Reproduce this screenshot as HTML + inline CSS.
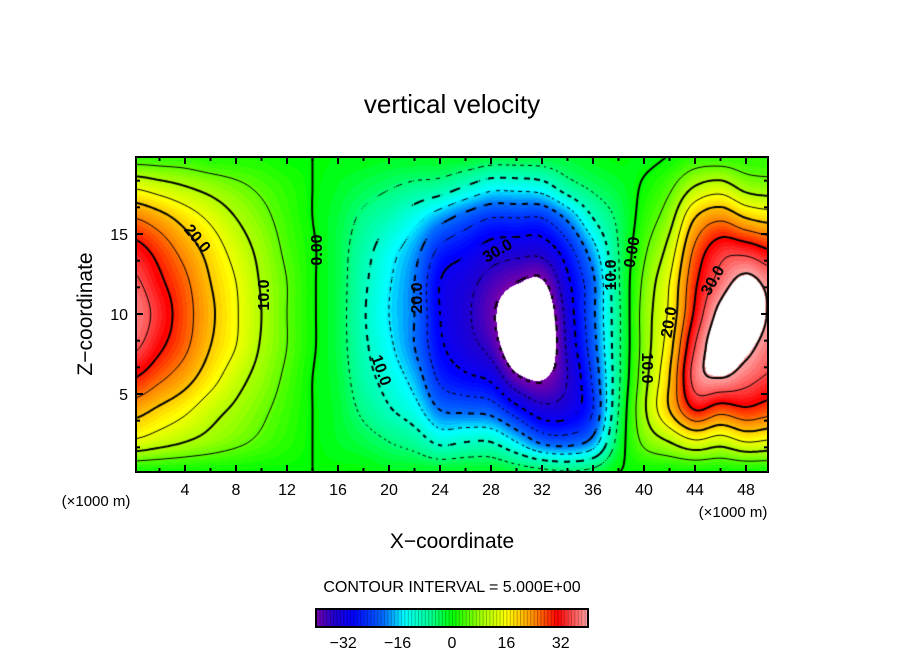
<!DOCTYPE html>
<html><head><meta charset="utf-8"><style>
body{margin:0;background:#fff;width:904px;height:654px;overflow:hidden;position:relative;font-family:"Liberation Sans",sans-serif}
#field{position:absolute;left:136px;top:157px}
svg{position:absolute;left:0;top:0}
</style></head><body>
<canvas id="field" width="632" height="315"></canvas>
<svg id="ov" width="904" height="654"></svg>
<script>
const xNodes=[0,2,4,6,8,10,12,14,16,18,20,22,24,26,28,30,32,34,36,38,40,42,44,46,48,50];
const zNodes=[0,2,4,6,8,10,12,14,16,18,20];
const wGrid=[
[0,14,22,30,36,38,36,32,25,14,2],
[0,12,19,26,31,33,31,28,22,12,2],
[0,10,16,22,26,27,26,23,18,10,2],
[0,8,12,17,20,21,20,18,14,8,1],
[0,6,9,12,15,15.5,15,13,10,6,1],
[0,4,6,8,9.5,10,9.5,8.5,6.5,4,1],
[0,2,3,4,5,5,5,4,3,2,0],
[0,0,0,0,0.5,0.5,0.5,0.5,0,0,0],
[0,-1.5,-2,-2.5,-3,-3,-3,-3,-2.5,-1.5,-0.5],
[0,-3,-6,-8,-9,-9.5,-9,-8,-6,-3,-0.5],
[-1,-5,-9.5,-12,-14,-15,-14.5,-13,-9,-4.5,-1],
[-1,-7,-13,-17,-20,-20,-20,-18,-13,-6,-1],
[-1,-11,-20,-26,-29,-30,-30,-26,-18,-7,-1],
[-1,-10,-21,-29,-33,-34,-33,-29,-22,-10,-1],
[-1,-10,-22,-31,-37,-39,-37,-32,-25,-13,-2],
[-2,-15,-28,-39,-46,-46,-40,-33,-25,-13,-2],
[-3,-21,-33,-41,-47,-46,-41,-33,-25,-12,-2],
[-4,-22,-32,-35,-34,-33,-31,-27,-19,-7,-2],
[-3,-18,-25,-24,-22,-21,-21,-17,-10,-4,-1],
[0,-3,-5,-6,-6,-6,-5.5,-5,-4,-2,0],
[0,6,9,8,7,7,6,4,2,0.5,-1],
[0,10,20,20,18,16,15,12,8,4,0],
[0,14,30,37,35,31,29,26,20,10,2],
[0,12,27,40,44,42,37,33,24,12,2],
[0,15,29,37,42,46,42,33,20,8,2],
[0,14,27,34,37,39,38,30,18,7,2]];
const xTickLabels=[4,8,12,16,20,24,28,32,36,40,44,48];
const zTickLabels=[5,10,15];
const barTickLabels=[-32,-16,0,16,32];
const contourLevels=[-40,-35,-30,-25,-20,-15,-10,-5,0,5,10,15,20,25,30,35,40];

const X0=134,XS=12.75,Z0=474,ZS=16;
const sx=x=>X0+XS*x, sz=z=>Z0-ZS*z;
function cr(p0,p1,p2,p3,t){return 0.5*((2*p1)+(-p0+p2)*t+(2*p0-5*p1+4*p2-p3)*t*t+(-p0+3*p1-3*p2+p3)*t*t*t);}
function g(i,j){i=Math.max(0,Math.min(xNodes.length-1,i));j=Math.max(0,Math.min(zNodes.length-1,j));return wGrid[i][j];}
function val(x,z){
  x=Math.max(0,Math.min(50,x));z=Math.max(0,Math.min(20,z));
  const dx=xNodes[1]-xNodes[0],dz=zNodes[1]-zNodes[0];
  let i=Math.min(xNodes.length-2,Math.floor((x-xNodes[0])/dx)),j=Math.min(zNodes.length-2,Math.floor((z-zNodes[0])/dz));
  const tx=(x-xNodes[i])/dx,tz=(z-zNodes[j])/dz;
  const r=[];
  for(let m=-1;m<=2;m++)r.push(cr(g(i-1,j+m),g(i,j+m),g(i+1,j+m),g(i+2,j+m),tx));
  return cr(r[0],r[1],r[2],r[3],tz);
}
const stops=[[-40,[115,0,170]],[-35,[35,0,205]],[-29,[0,0,255]],[-20,[0,110,255]],[-14,[0,255,255]],[-6,[0,255,140]],[0,[0,255,0]],[8,[150,255,0]],[16,[255,255,0]],[24,[255,140,0]],[31,[255,0,0]],[40,[255,165,165]]];
function col(v){
  if(v>40||v<-40)return [255,255,255];
  for(let k=0;k<stops.length-1;k++){const[a,ca]=stops[k],[b,cb]=stops[k+1];
    if(v<=b){const t=(v-a)/(b-a);return ca.map((c,m)=>Math.round(c+(cb[m]-c)*t));}}
  return stops[stops.length-1][1];
}
const cv=document.getElementById('field'),ctx=cv.getContext('2d');
const W=632,H=315,img=ctx.createImageData(W,H);
for(let py=0;py<H;py++)for(let px=0;px<W;px++){
  const v=val((136+px+0.5-X0)/XS,(Z0-(157+py+0.5))/ZS);
  const q=Math.round(v);const c=col(q);const o=(py*W+px)*4;
  img.data[o]=c[0];img.data[o+1]=c[1];img.data[o+2]=c[2];img.data[o+3]=255;}
ctx.putImageData(img,0,0);
const S=2,NX=Math.ceil(W/S)+1,NY=Math.ceil(H/S)+1,F=[];
for(let j=0;j<NY;j++){F[j]=[];for(let i=0;i<NX;i++)F[j][i]=val((136+i*S-X0)/XS,(Z0-(157+j*S))/ZS);}
ctx.strokeStyle='#000';
contourLevels.forEach(L=>{
  ctx.lineWidth=(L%10===0)?2:1;
  ctx.beginPath();
  for(let j=0;j<NY-1;j++)for(let i=0;i<NX-1;i++){
    if(L<0){const ph=Math.floor((i+j)/(L%10===0?3:2));if(ph%2)continue;}
    const a=F[j][i],b=F[j][i+1],c=F[j+1][i+1],d=F[j+1][i];
    const p=[],x0=i*S,y0=j*S;
    if((a-L)*(b-L)<0)p.push([x0+S*(L-a)/(b-a),y0]);
    if((b-L)*(c-L)<0)p.push([x0+S,y0+S*(L-b)/(c-b)]);
    if((d-L)*(c-L)<0)p.push([x0+S*(L-d)/(c-d),y0+S]);
    if((a-L)*(d-L)<0)p.push([x0,y0+S*(L-a)/(d-a)]);
    for(let k=0;k+1<p.length;k+=2){ctx.moveTo(p[k][0],p[k][1]);ctx.lineTo(p[k+1][0],p[k+1][1]);}
  }
  ctx.stroke();
});
const NS='http://www.w3.org/2000/svg',ov=document.getElementById('ov');
function mk(tag,attrs,txt){const e=document.createElementNS(NS,tag);for(const k in attrs)e.setAttribute(k,attrs[k]);if(txt!==undefined)e.textContent=txt;ov.appendChild(e);return e;}
let e;
e=mk('rect',{x:136,y:157,width:632,height:315,fill:'none',stroke:'#000','stroke-width':2});


for(let x=2;x<50;x+=2){const len=(x%4===0)?7:4;
  e=mk('line',{x1:sx(x),x2:sx(x),y1:472,y2:472-len,stroke:'#000','stroke-width':2});
  
  
  e=mk('line',{x1:sx(x),x2:sx(x),y1:157,y2:157+len,stroke:'#000','stroke-width':2});
  
  }
for(let z=5/3;z<19.8;z+=5/3){const len=(Math.abs(z%5)<0.01||Math.abs(z%5-5)<0.01)?7:4;
  e=mk('line',{x1:136,x2:136+len,y1:sz(z),y2:sz(z),stroke:'#000','stroke-width':2});
  
  
  e=mk('line',{x1:768,x2:768-len,y1:sz(z),y2:sz(z),stroke:'#000','stroke-width':2});
  
  }
xTickLabels.forEach(t=>{e=mk('text',{x:sx(t),y:495,'font-size':16,'text-anchor':'middle'},String(t));
  
  });
zTickLabels.forEach(t=>{e=mk('text',{x:128,y:sz(t)+6,'font-size':16,'text-anchor':'end'},String(t));
  
  });
e=mk('text',{x:96,y:506,'font-size':15,'text-anchor':'middle'},'(×1000 m)');


e=mk('text',{x:733,y:517,'font-size':15,'text-anchor':'middle'},'(×1000 m)');


e=mk('text',{x:452,y:113,'font-size':26,'text-anchor':'middle'},'vertical velocity');


e=mk('text',{x:452,y:548,'font-size':21,'text-anchor':'middle'},'X\u2212coordinate');


e=mk('text',{x:0,y:0,'font-size':21,'text-anchor':'middle',transform:'translate(92,314) rotate(-90)'},'Z\u2212coordinate');


e=mk('text',{x:452,y:592,'font-size':16,'text-anchor':'middle'},'CONTOUR INTERVAL = 5.000E+00');


[['20.0',198,238,50],['0.00',316,250,-90],['10.0',263,295,-90],['20.0',416,298,-90],['10.0',382,370,70],['30.0',497,250,-30],['10.0',610,275,-90],['0.00',631,252,-80],['20.0',668,322,-80],['10.0',648,368,90],['30.0',712,280,-60]].forEach(l=>{
  e=mk('text',{x:0,y:0,'font-size':16,'font-weight':'bold','text-anchor':'middle',transform:`translate(${l[1]},${l[2]}) rotate(${l[3]})`,dy:6},l[0]);
  
  });
const bx=v=>316+(v+40)*(272/80);
for(let v=-40;v<40;v++){const c=col(v+0.5);
  e=mk('rect',{x:bx(v),y:609,width:272/80+0.3,height:18,fill:`rgb(${c})`});
  
  
  e=mk('line',{x1:bx(v)+0.5,x2:bx(v)+0.5,y1:609,y2:627,stroke:'rgba(0,0,0,0.25)','stroke-width':1});
  
  }
e=mk('rect',{x:316,y:609,width:272,height:18,fill:'none',stroke:'#000','stroke-width':2});


barTickLabels.forEach(t=>{e=mk('text',{x:bx(t),y:648,'font-size':16,'text-anchor':'middle'},(t<0?'\u2212':'')+Math.abs(t));
  
  });
</script>
</body></html>
